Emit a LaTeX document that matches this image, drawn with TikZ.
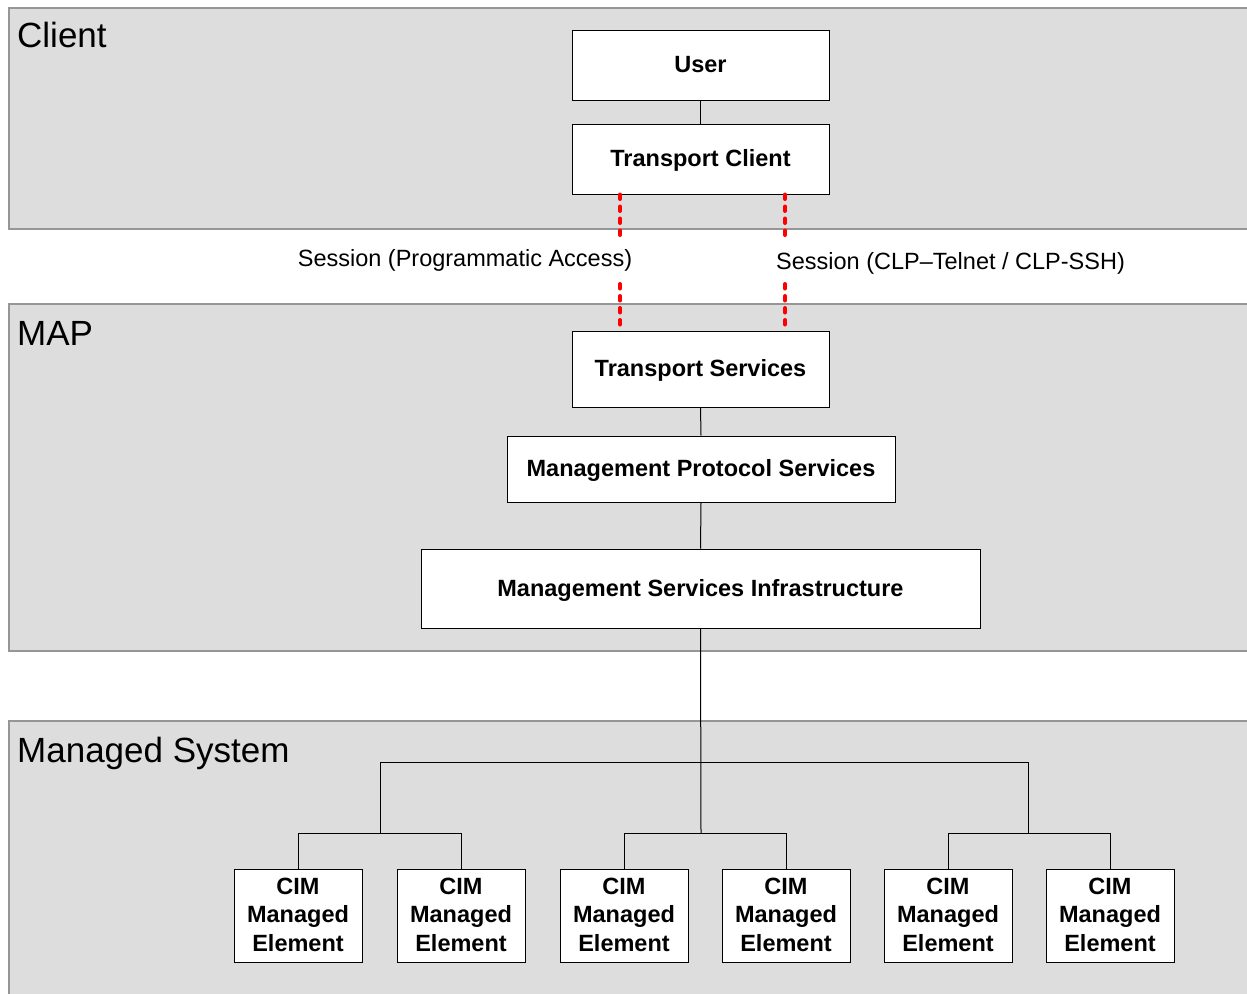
\documentclass[tikz,border=0pt]{standalone}
\usepackage{fontspec}
\setmainfont{Liberation Sans}
\definecolor{panelfill}{RGB}{221,221,221}
\definecolor{paneledge}{RGB}{150,150,150}
\begin{document}
\begin{tikzpicture}[x=1pt,y=-1pt,
 panel/.style={draw=paneledge, fill=panelfill, line width=1.3pt},
 box/.style={draw=black, fill=white, line width=1pt, font=\bfseries\fontsize{23.5}{28.5}\selectfont, align=center, inner sep=0pt, text depth=1.5pt},
 cimbox/.style={box, minimum width=128pt, minimum height=93pt},
 ptitle/.style={anchor=base west, font=\fontsize{35}{40}\selectfont, inner sep=0pt},
 conn/.style={draw=black, line width=1pt},
 sess/.style={draw=red, line width=4pt, line cap=round, dash pattern=on 4.5pt off 7.5pt},
 lbl/.style={font=\fontsize{23.5}{28}\selectfont, inner sep=0pt}]
\clip (0,0) rectangle (1247,993);
\fill[white] (0,0) rectangle (1247,993);
% panels
\draw[panel] (9,8) rectangle (1265,229);
\draw[panel] (9,304) rectangle (1265,651);
\draw[panel] (9,721) rectangle (1265,1010);
\node[ptitle] (tClient) at (17,47) {Client};
\node[ptitle] (tMAP) at (17,345) {MAP};
\node[ptitle] (tMS) at (17,762) {Managed System};
% boxes
\node[box, minimum width=257pt, minimum height=70pt] (user) at (700.5,65) {User};
\node[box, minimum width=257pt, minimum height=70pt] (tc) at (700.5,159) {Transport Client};
\node[box, minimum width=257pt, minimum height=76pt] (ts) at (700.5,369) {Transport Services};
\node[box, minimum width=388pt, minimum height=66pt] (mps) at (701,469) {Management Protocol Services};
\node[box, minimum width=559pt, minimum height=79pt] (msi) at (700.5,588.5) {Management Services Infrastructure};
\node[cimbox] (c1) at (298,915.5) {CIM\\Managed\\Element};
\node[cimbox] (c2) at (461,915.5) {CIM\\Managed\\Element};
\node[cimbox] (c3) at (624,915.5) {CIM\\Managed\\Element};
\node[cimbox] (c4) at (786,915.5) {CIM\\Managed\\Element};
\node[cimbox] (c5) at (948,915.5) {CIM\\Managed\\Element};
\node[cimbox] (c6) at (1110,915.5) {CIM\\Managed\\Element};
% connectors
\draw[conn] (user.south) -- (tc.north);
\draw[conn] (ts.south) -- (mps.north);
\draw[conn] (mps.south) -- (msi.north);
\coordinate (jL) at (380,762);
\coordinate (jR) at (1028,762);
\coordinate (bL) at (380,833);
\coordinate (bM) at (701,833);
\coordinate (bR) at (1028,833);
\draw[conn] (msi.south) -- (bM);
\draw[conn] (bL) -- (jL) -- (jR) -- (bR);
\draw[conn] (c1.north) |- (bL) -| (c2.north);
\draw[conn] (c3.north) |- (bM) -| (c4.north);
\draw[conn] (c5.north) |- (bR) -| (c6.north);
% sessions
\coordinate (d1) at (620,235);
\coordinate (d2) at (785,242);
\coordinate (d3) at (620,284);
\coordinate (d4) at (785,284);
\draw[sess] (tc.south -| d1) -- (d1);
\draw[sess] (tc.south -| d2) -- (d2);
\draw[sess] (d3) -- (d3 |- ts.north);
\draw[sess] (d4) -- (d4 |- ts.north);
\node[lbl] (s1) at (465,260) {Session (Programmatic Access)};
\node[lbl, anchor=west] (s2) at (776,263) {Session (CLP–Telnet / CLP-SSH)};
\end{tikzpicture}
\end{document}
